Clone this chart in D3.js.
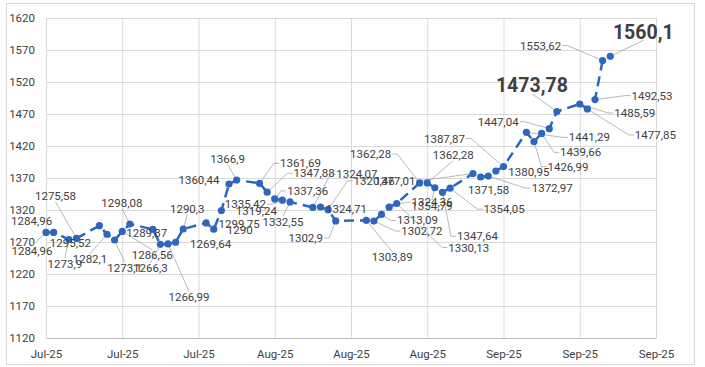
<!doctype html>
<html>
<head>
<meta charset="utf-8">
<script src="https://d3js.org/d3.v7.min.js"></script>
<style>
    body { margin: 0; background: #fff; }
    svg text { font-family: Roboto, "Open Sans", sans-serif; fill: #404040; }
</style>
</head>
<body>
<div id="chart"></div>
<script>
    // business days Jul 7 - Sep 19 2025 (Jul 9 and Aug 15 missing)
    var dates = [
        "2025-07-07","2025-07-08","2025-07-10","2025-07-11",
        "2025-07-14","2025-07-15","2025-07-16","2025-07-17","2025-07-18",
        "2025-07-21","2025-07-22","2025-07-23","2025-07-24","2025-07-25",
        "2025-07-28","2025-07-29","2025-07-30","2025-07-31","2025-08-01",
        "2025-08-04","2025-08-05","2025-08-06","2025-08-07","2025-08-08",
        "2025-08-11","2025-08-12","2025-08-13","2025-08-14",
        "2025-08-18","2025-08-19","2025-08-20","2025-08-21","2025-08-22",
        "2025-08-25","2025-08-26","2025-08-27","2025-08-28","2025-08-29",
        "2025-09-01","2025-09-02","2025-09-03","2025-09-04","2025-09-05",
        "2025-09-08","2025-09-09","2025-09-10","2025-09-11","2025-09-12",
        "2025-09-15","2025-09-16","2025-09-17","2025-09-18","2025-09-19"
    ];

    var values = [
        1284.96, 1284.96, 1273.9, 1275.58,
        1295.52, 1282.1, 1273.1, 1286.56, 1298.08,
        1289.87, 1266.3, 1266.99, 1269.64, 1290.3,
        1299.75, 1290, 1319.24, 1360.44, 1366.9,
        1361.69, 1347.88, 1337.36, 1335.42, 1332.55,
        1324.07, 1324.71, 1320.46, 1302.9,
        1303.89, 1302.72, 1313.09, 1324.36, 1330.13,
        1362.28, 1362.28, 1354.79, 1347.64, 1354.05,
        1377.01, 1371.58, 1372.97, 1380.95, 1387.87,
        1441.29, 1426.99, 1439.66, 1447.04, 1473.78,
        1485.59, 1477.85, 1492.53, 1553.62, 1560.1
    ];

    var yTicks = [1120, 1170, 1220, 1270, 1320, 1370, 1420, 1470, 1520, 1570, 1620];
    var xTicks = ["2025-07-07","2025-07-17","2025-07-27","2025-08-06","2025-08-16",
                  "2025-08-26","2025-09-05","2025-09-15","2025-09-25"];

    // labels shown in big bold type
    var boldDates = ["2025-09-12", "2025-09-19"];

    // where each label was dragged to, relative to its point (px)
    var labelOffsets = [
        [-14,19],[-22,-11],[-4,24],[-21,-42],
        [-29,17],[-17,25],[10,28],[30,24],[-8,-21],
        [-6,4],[-10,24],[21,53],[35,2],[4,-20],
        [33,1],[26,1],[35,0],[-30,-4],[-9,-21],
        [41,-20],[47,-19],[33,-8],[-37,4],[-7,20],
        [44,-33],[26,2],[46,-29],[-30,17],
        [26,37],[48,10],[36,6],[43,-5],[72,44],
        [-49,-29],[26,-28],[-3,18],[35,44],[54,21],
        [-78,7],[8,13],[64,12],[33,1],[-59,-28],
        [63,5],[34,25],[39,19],[-51,-7],[-25,-26],
        [55,9],[68,26],[57,-4],[-62,-15],[33,-24]
    ];
    // labels that sit close enough to need no leader line
    var noLeader = [1, 4, 9, 12, 14, 15, 16, 17, 25, 39, 41];

    var width = 705,
        height = 367,
        plotLeft = 46, plotRight = 656, plotTop = 18, plotBottom = 338,
        blue = "#2f66bd";

    var parse = d3.timeParse("%Y-%m-%d");
    var points = dates.map(function(d, i) {
        return { date: parse(d), value: values[i], i: i };
    });

    var x = d3.scaleTime()
              .domain([parse(xTicks[0]), parse(xTicks[xTicks.length - 1])])
              .range([plotLeft, plotRight]);
    var y = d3.scaleLinear()
              .domain([yTicks[0], yTicks[yTicks.length - 1]])
              .range([plotBottom, plotTop]);

    var svg = d3.select("#chart")
                .append("svg")
                .attr("width", width)
                .attr("height", height);

    svg.append("rect")
       .attr("x", 6.5).attr("y", 3.5)
       .attr("width", 688).attr("height", 361)
       .attr("fill", "#fff")
       .attr("stroke", "#d9d9d9");

    // y axis + horizontal gridlines
    var gy = svg.append("g")
                .attr("transform", "translate(" + plotLeft + ",0)")
                .call(d3.axisLeft(y).tickValues(yTicks).tickFormat(d3.format("d"))
                        .tickSize(-(plotRight - plotLeft)).tickSizeOuter(0).tickPadding(11));
    gy.select(".domain").remove();
    gy.selectAll("line").attr("stroke", "#d9d9d9");
    gy.selectAll("text").attr("font-size", "11.5px").attr("fill", "#404040");

    // x axis + vertical gridlines
    var gx = svg.append("g")
                .attr("transform", "translate(0," + plotBottom + ")")
                .call(d3.axisBottom(x).tickValues(xTicks.map(parse))
                        .tickFormat(d3.timeFormat("%b-%y"))
                        .tickSize(-(plotBottom - plotTop)).tickSizeOuter(0).tickPadding(12));
    gx.select(".domain").attr("stroke", "#bfbfbf");
    gx.selectAll("line").attr("stroke", "#d9d9d9");
    gx.selectAll("text").attr("font-size", "11.5px").attr("fill", "#404040");

    var leaders = svg.append("g");

    var line = d3.line()
                 .x(function(d) { return x(d.date); })
                 .y(function(d) { return y(d.value); });

    svg.append("path")
       .datum(points)
       .attr("d", line)
       .attr("fill", "none")
       .attr("stroke", blue)
       .attr("stroke-width", 2.5)
       .attr("stroke-dasharray", "10,6");

    svg.append("g")
       .selectAll("circle")
       .data(points)
       .enter()
       .append("circle")
       .attr("cx", function(d) { return x(d.date); })
       .attr("cy", function(d) { return y(d.value); })
       .attr("r", 3.6)
       .attr("fill", blue);

    var labels = svg.append("g")
                    .selectAll("text")
                    .data(points)
                    .enter()
                    .append("text")
                    .attr("x", function(d) { return x(d.date) + labelOffsets[d.i][0]; })
                    .attr("y", function(d) { return y(d.value) + labelOffsets[d.i][1]; })
                    .attr("dy", "0.35em")
                    .attr("text-anchor", "middle")
                    .attr("font-size", function(d) {
                        return boldDates.indexOf(dates[d.i]) >= 0 ? "19.5px" : "11.5px";
                    })
                    .attr("font-weight", function(d) {
                        return boldDates.indexOf(dates[d.i]) >= 0 ? "bold" : "normal";
                    })
                    .text(function(d) { return String(d.value).replace(".", ","); });

    // leader lines, attached to the side of the label facing its point
    labels.each(function(d) {
        if (noLeader.indexOf(d.i) >= 0) return;
        var px = x(d.date), py = y(d.value);
        var cx = px + labelOffsets[d.i][0], cy = py + labelOffsets[d.i][1];
        var bold = boldDates.indexOf(dates[d.i]) >= 0;
        var w = this.getComputedTextLength(), h = bold ? 14 : 9;
        var x0 = cx - w / 2 - 1, x1 = cx + w / 2 + 1, y0 = cy - h / 2 - 1, y1 = cy + h / 2 + 1;
        var pts;
        if (px >= x0 - 10 && px <= x1 + 10) {
            var ey = py < y0 ? y0 : y1;
            pts = [[cx, ey], [px, py]];
        } else if (px < x0) {
            pts = [[x0, cy], [x0 - 5, cy], [px, py]];
        } else {
            pts = [[x1, cy], [x1 + 5, cy], [px, py]];
        }
        leaders.append("path")
               .attr("d", d3.line()(pts))
               .attr("fill", "none")
               .attr("stroke", "#a6a6a6")
               .attr("stroke-width", 0.8);
    });
</script>
</body>
</html>
